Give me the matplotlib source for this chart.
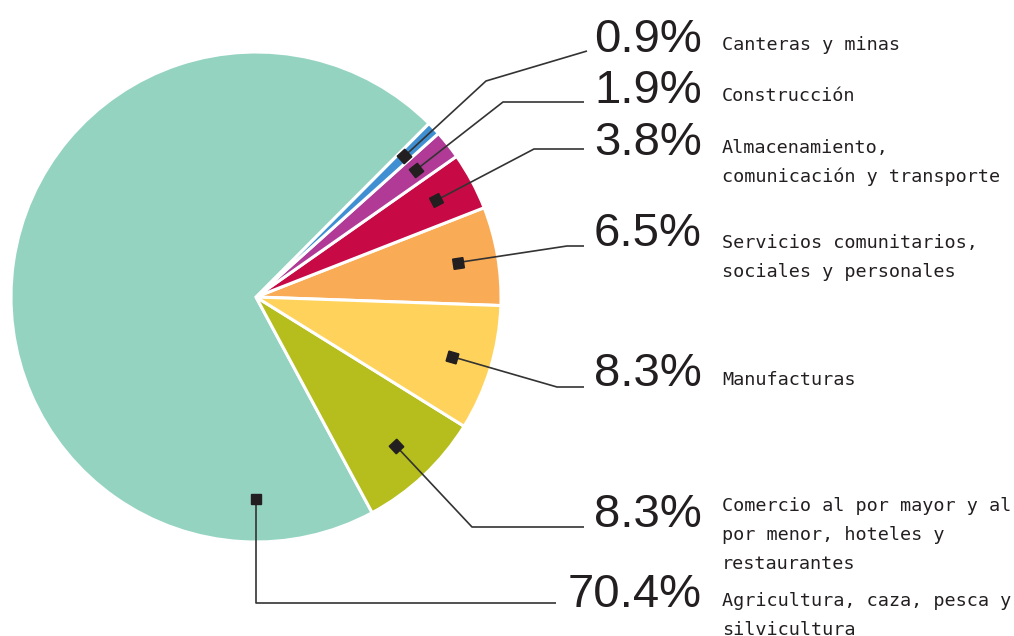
import numpy as np
import matplotlib
matplotlib.use("Agg")
import matplotlib.pyplot as plt

# ---- data (counter-clockwise order starting just below the horizontal) ----
categories = ["Servicios comunitarios,\nsociales y personales",
              "Almacenamiento,\ncomunicación y transporte",
              "Construcción",
              "Canteras y minas",
              "Agricultura, caza, pesca y\nsilvicultura",
              "Comercio al por mayor y al\npor menor, hoteles y\nrestaurantes",
              "Manufacturas"]
values = [6.5, 3.8, 1.9, 0.9, 70.4, 8.3, 8.3]
colors = ["#F9AB55", "#C70A45", "#B03A96", "#3F8FD2", "#95D3C1", "#B5BE1D", "#FFD35B"]

W, H = 1014, 636
fig = plt.figure(figsize=(W / 100, H / 100), dpi=100)
ax = fig.add_axes([0, 0, 1, 1])

def Y(y):  # image-pixel y -> axes y
    return H - y

cx, cy, R = 256, Y(297), 245
wedges, _ = ax.pie(values, colors=colors, startangle=-2, counterclock=True,
                   center=(cx, cy), radius=R, frame=True,
                   wedgeprops=dict(edgecolor="white", linewidth=2.2))
ax.set_xlim(0, W)
ax.set_ylim(0, H)
ax.set_aspect("equal")
ax.axis("off")

# layout: elbow points, line ends, percent baseline, label first-line baseline (image px)
layout = {
    "Canteras y minas": dict(path=[(486, 81), (587, 51)], pb=52, lb=50),
    "Construcción": dict(path=[(503, 102), (584, 102)], pb=103, lb=101),
    "Almacenamiento,\ncomunicación y transporte": dict(path=[(534, 149), (584, 149)], pb=155, lb=153),
    "Servicios comunitarios,\nsociales y personales": dict(path=[(567, 246), (584, 246)], pb=246, lb=248),
    "Manufacturas": dict(path=[(557, 387), (584, 387)], pb=386, lb=385),
    "Comercio al por mayor y al\npor menor, hoteles y\nrestaurantes": dict(path=[(472, 527), (584, 527)], pb=527, lb=511),
    "Agricultura, caza, pesca y\nsilvicultura": dict(path=[(None, 603), (556, 603)], pb=607, lb=606),
}
line_step = 29

ink = "#231F20"
for w, cat, v in zip(wedges, categories, values):
    if v > 50:
        ang = np.deg2rad(270.0)
        rr = 0.825 * R
    else:
        ang = np.deg2rad((w.theta1 + w.theta2) / 2)
        rr = 0.835 * R
    mx, my = cx + rr * np.cos(ang), cy + rr * np.sin(ang)
    L = layout[cat]
    pts = [(mx, my)] + [((mx if x is None else x), Y(y)) for x, y in L["path"]]
    xs, ys = zip(*pts)
    ax.plot(xs, ys, color="#333333", lw=1.2, solid_capstyle="butt", zorder=5)
    dx, dy = xs[1] - xs[0], ys[1] - ys[0]
    rot = np.degrees(np.arctan2(dy, dx))
    ax.plot([mx], [my], marker=(4, 0, 45 + rot), ms=10.5, color=ink,
            mec=ink, zorder=6, linestyle="none")
    ax.text(702, Y(L["pb"]), f"{v:.1f}%", ha="right", va="baseline",
            fontsize=34, family="Liberation Sans", color=ink)
    for i, line in enumerate(cat.split("\n")):
        ax.text(722, Y(L["lb"] + i * line_step), line, ha="left", va="baseline",
                fontsize=13.3, family="DejaVu Sans Mono", color=ink)

fig.savefig("out.png", dpi=100)
